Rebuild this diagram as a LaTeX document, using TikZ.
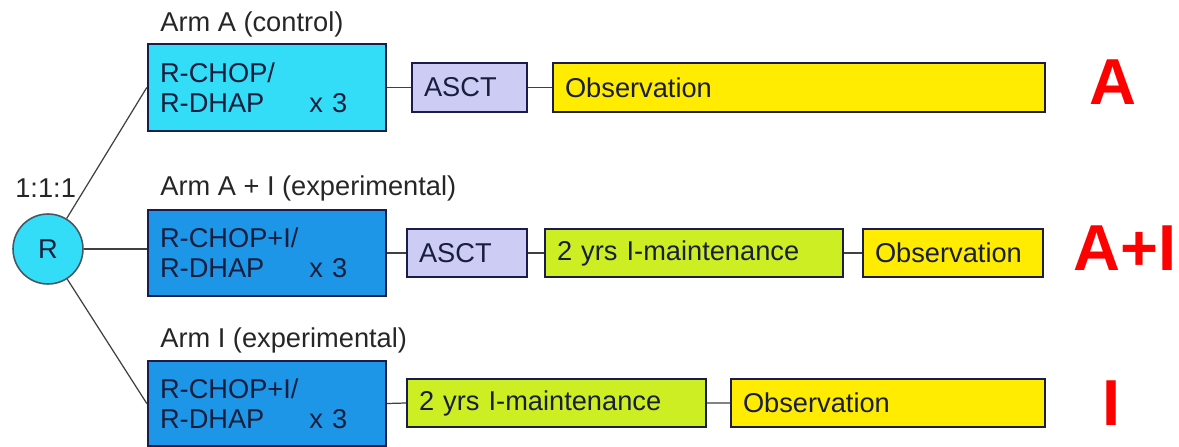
\documentclass[tikz,border=0pt]{standalone}
\usepackage{fontspec}
\setmainfont{Liberation Sans}
\usepackage{xcolor}
\usepackage{tikz}

\definecolor{armcyan}{RGB}{51,221,247}
\definecolor{armblue}{RGB}{30,150,232}
\definecolor{asctfill}{RGB}{204,204,244}
\definecolor{maintfill}{RGB}{204,238,34}
\definecolor{obsfill}{RGB}{255,236,0}
\definecolor{boxedge}{RGB}{28,28,76}
\definecolor{boxink}{RGB}{24,30,60}

\tikzset{
  armbox/.style={draw=boxedge, line width=1.4pt, text=boxink, align=left,
    inner xsep=0.24cm, inner ysep=0pt, font=\fontsize{15.5}{17}\selectfont},
  armlabel/.style={anchor=base west, inner sep=0pt, text=black!85,
    font=\fontsize{15.5}{17}\selectfont},
  armtag/.style={text=red, inner sep=0pt, font=\fontsize{37}{40}\selectfont\bfseries},
  link/.style={draw=black!75, line width=0.7pt},
}

\begin{document}
\begin{tikzpicture}[x=0.02cm, y=-0.02cm]
    \useasboundingbox (0,0) rectangle (1179,446);

    % Randomisation
    \node[circle, draw=black!70!cyan, line width=0.9pt, fill=armcyan, minimum size=1.4cm,
          inner sep=0pt, text=boxink, font=\fontsize{15.5}{17}\selectfont] (R) at (48,249) {R};
    \node[armlabel] (ratio) at (15,197) {1:1:1};

    % Arm labels
    \node[armlabel] (labA) at (160,32) {Arm A (control)};
    \node[armlabel] (labAI) at (160,195) {Arm A + I (experimental)};
    \node[armlabel] (labI) at (160,347) {Arm I (experimental)};

    % Induction
    \node[armbox, fill=armcyan, text width=4.28cm, minimum height=1.74cm] (indA) at (267,87.5)
        {R-CHOP/\\R-DHAP\hspace{0.9cm}x 3};
    \node[armbox, fill=armblue, text width=4.28cm, minimum height=1.72cm] (indAI) at (267,253)
        {R-CHOP+I/\\R-DHAP\hspace{0.9cm}x 3};
    \node[armbox, fill=armblue, text width=4.28cm, minimum height=1.70cm] (indI) at (267,403.5)
        {R-CHOP+I/\\R-DHAP\hspace{0.9cm}x 3};

    % Arm A
    \node[armbox, fill=asctfill, text width=1.82cm, minimum height=0.98cm] (asctA) at (469.5,87.5) {ASCT};
    \node[armbox, fill=obsfill, text width=9.36cm, minimum height=0.98cm] (obsA) at (799,87.5) {Observation};

    % Arm A+I
    \node[armbox, fill=asctfill, text width=1.92cm, minimum height=0.96cm] (asctAI) at (467,253) {ASCT};
    \node[armbox, fill=maintfill, text width=5.48cm, minimum height=0.96cm] (maintAI) at (694,253) {2 yrs I-maintenance};
    \node[armbox, fill=obsfill, text width=3.12cm, minimum height=0.96cm] (obsAI) at (953,253) {Observation};

    % Arm I
    \node[armbox, fill=maintfill, text width=5.5cm, minimum height=0.96cm] (maintI) at (556.5,403) {2 yrs I-maintenance};
    \node[armbox, fill=obsfill, text width=5.8cm, minimum height=0.96cm] (obsI) at (888,403) {Observation};

    % Connectors
    \draw[link] (R) -- (indA.west);
    \draw[link] (R.east) -- (R.east -| indAI.west);
    \draw[link] (R) -- (indI.west);
    \draw[link] (indA.east) -- (asctA.west) (asctA.east) -- (obsA.west);
    \draw[link] (indAI.east) -- (asctAI.west) (asctAI.east) -- (maintAI.west) (maintAI.east) -- (obsAI.west);
    \draw[link] (indI.east) -- (maintI.west) (maintI.east) -- (obsI.west);

    % Tags
    \node[armtag] (tagA) at (1113,82) {A};
    \node[armtag, anchor=east] (tagAI) at (1177,248) {A+I};
    \node[armtag] (tagI) at (1112,403.5) {I};
\end{tikzpicture}
\end{document}
